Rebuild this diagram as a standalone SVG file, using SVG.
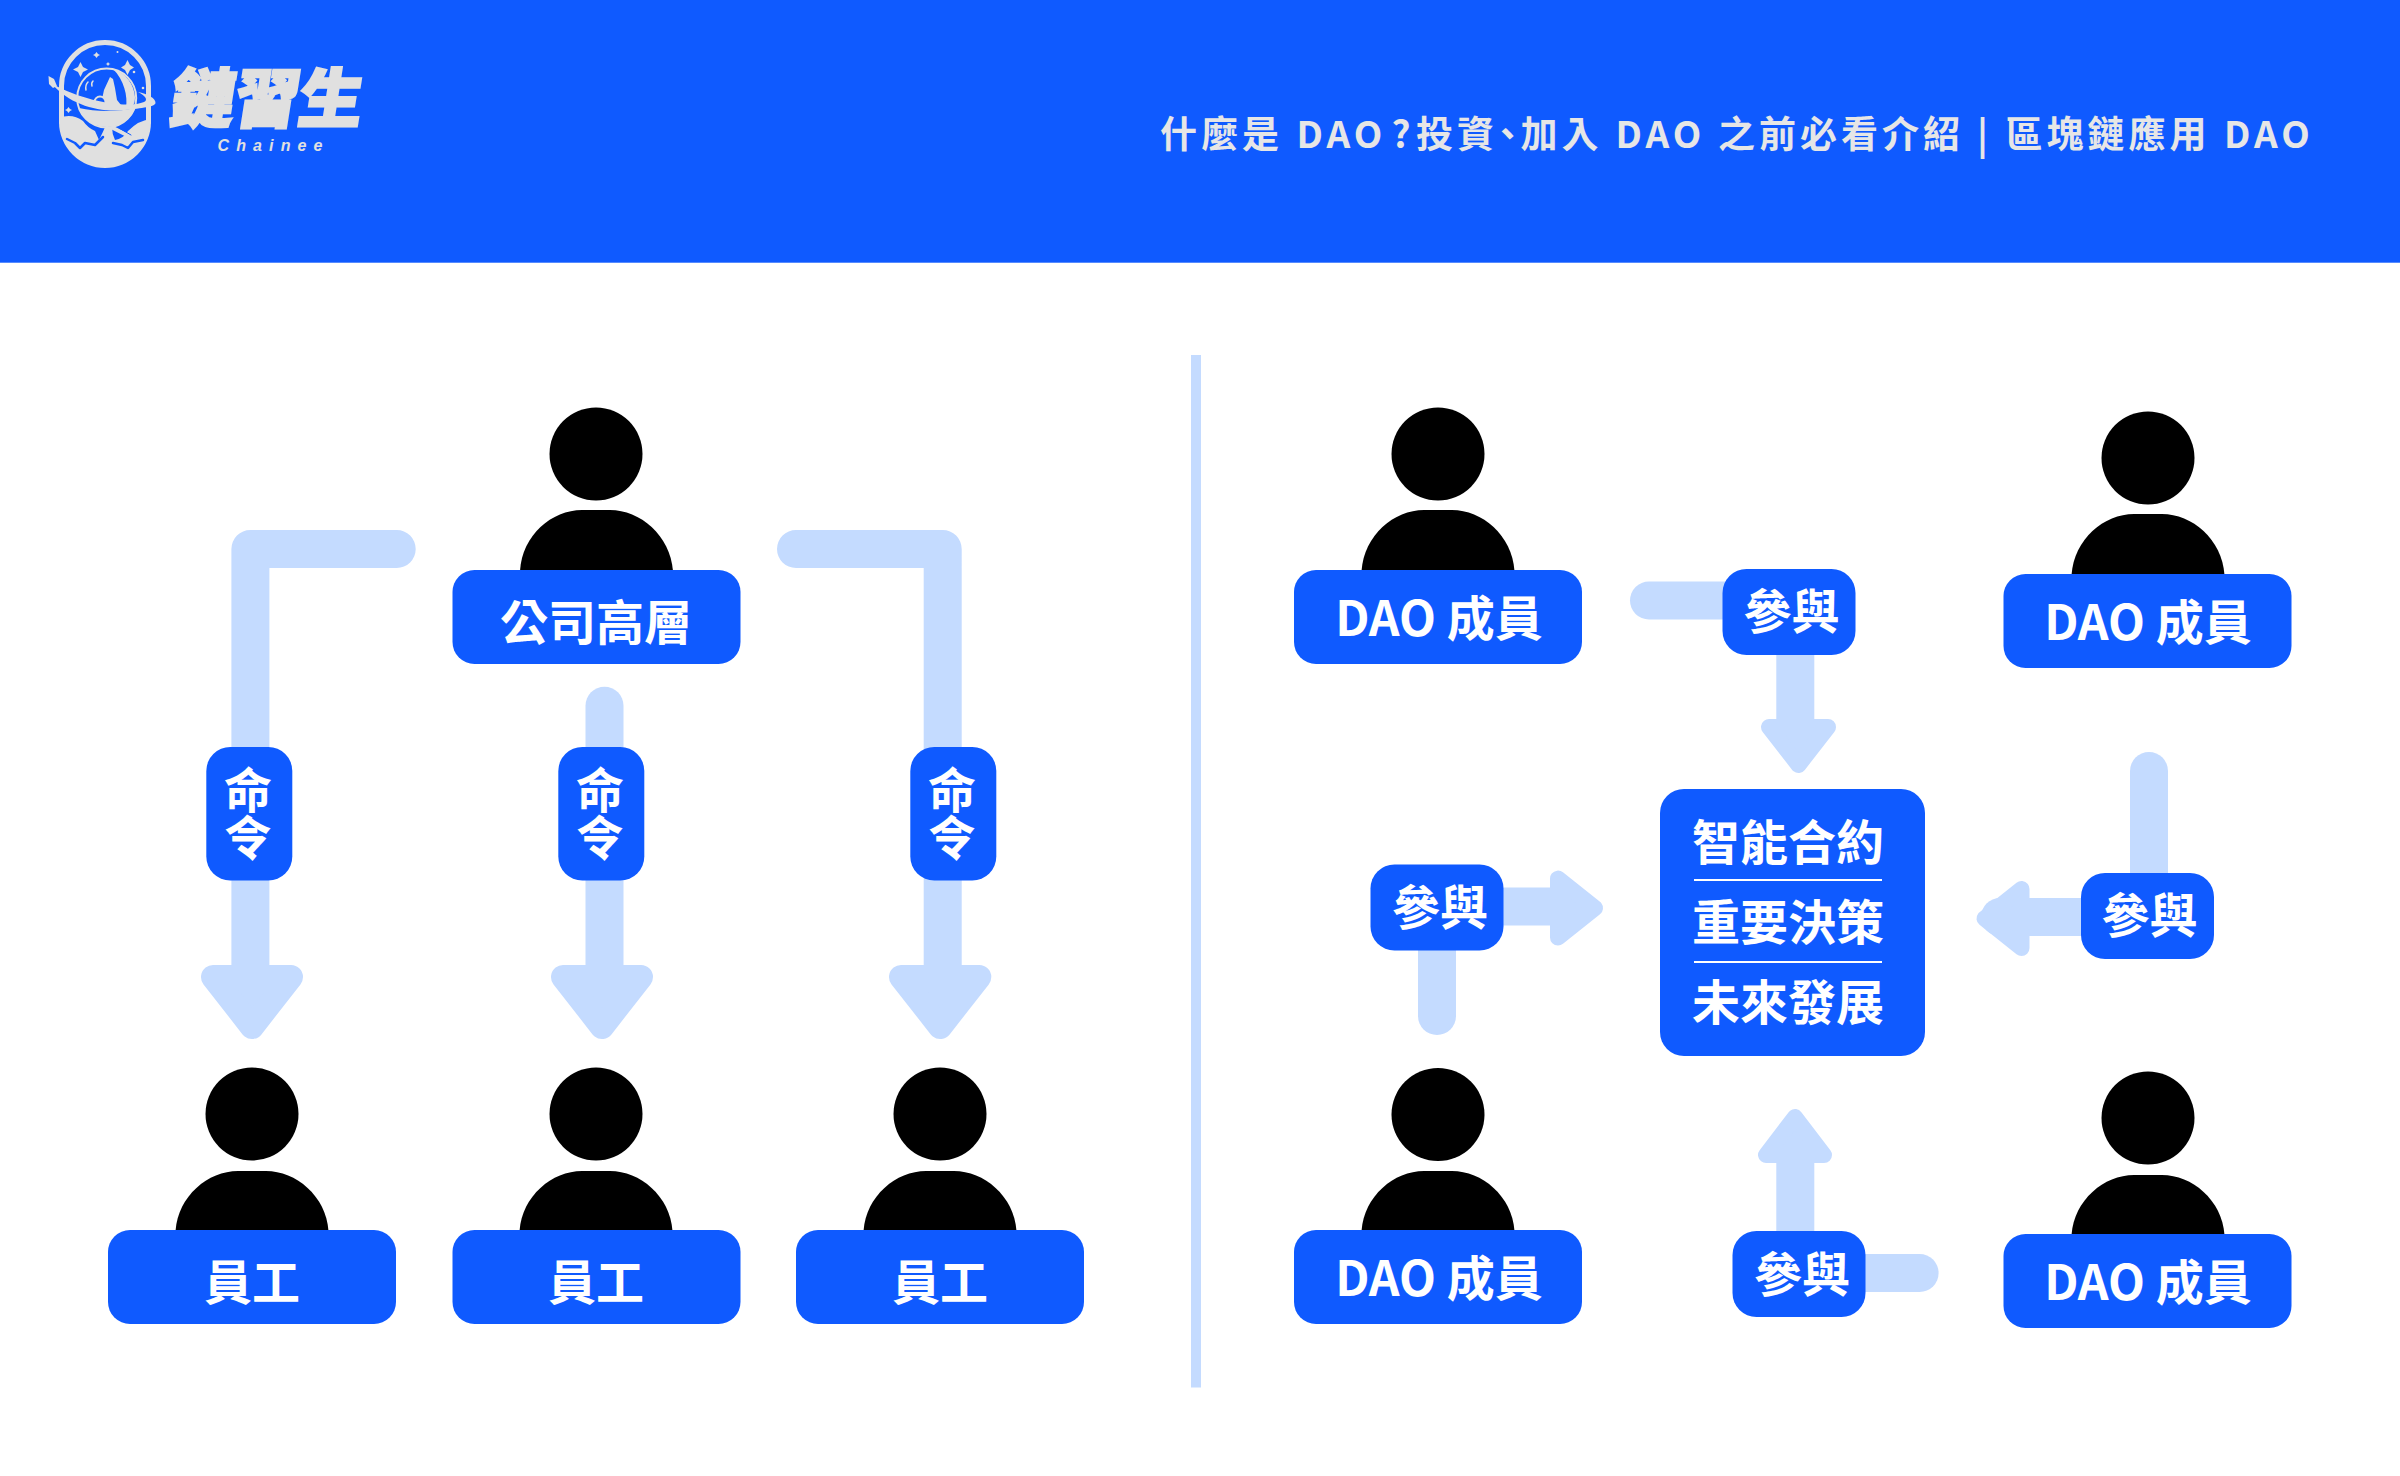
<svg xmlns="http://www.w3.org/2000/svg" width="2400" height="1476" viewBox="0 0 2400 1476">
<style>
text{font-family:"Noto Sans CJK TC","Noto Sans CJK SC","Noto Sans",sans-serif;font-weight:700;fill:#fff;text-anchor:middle}
.box{fill:#0f5aff}
.pill{fill:#0f5aff}
.t{font-size:48px}
.sh{fill:none;stroke:#c4dbff;stroke-width:38;stroke-linecap:round;stroke-linejoin:round}
.hb{fill:#c4dbff;stroke:#c4dbff;stroke-width:24;stroke-linejoin:round}
.hs{fill:#c4dbff;stroke:#c4dbff;stroke-width:16;stroke-linejoin:round}
.body{fill:#000}
.g{fill:#e0e0e0}
.gs{fill:none;stroke:#e0e0e0;stroke-linecap:round}
.bl{fill:none;stroke:#0f5aff;stroke-linecap:round;stroke-linejoin:round}
</style>
<rect width="2400" height="262.700" fill="#0f5aff"/>
<g id="logo">
<path class="gs" stroke-width="5" d="M61.500 122V86a43.500 43.500 0 0 1 87 0V122"/>
<path class="g" d="M59 118Q72 113 83 121Q88 128 95 131L99 140Q103 132 105 127L112 127Q112 134 115 140Q123 139 128 131Q139 120 151 119V122A46 46 0 0 1 59 122Z"/>
<path class="bl" stroke-width="2.500" d="M67 139L75 143L80 148L85 143L95 145L103 137M113 143L122 145L128 148L133 142L143 140"/>
<circle cx="106.700" cy="98" r="29.500" fill="none" stroke="#e0e0e0" stroke-width="2"/>
<path class="g" d="M79 108C84 122 96 127 107 127C120 127 131 120 135 108C118 112 96 112 79 108Z"/>
<path class="g" d="M113 69C126 73 134 84 135 97C135 103 133 107 130 109L126 108C128 96 124 80 113 69Z"/>
<path class="g" d="M110 77L113 79L115 88L117 100L121 105L119 109L105 108L101 104L104 90Z"/>
<circle cx="100" cy="102" r="5.500" fill="#0f5aff" stroke="#e0e0e0" stroke-width="2"/>
<path class="bl" style="stroke:#e0e0e0" stroke-width="1.500" d="M86 90Q85 85 88 82M92 86Q91 83 93 81M84 102L88 103M90 101L93 104"/>
<path class="g" d="M52 84C70 105 100 113 125 110C142 108 155 107 155.500 103C156 98 147 94 138 92C146 96 148 100 144 102C130 108 90 104 52 84Z"/>
<path class="g" d="M48.500 76L54 79L57 86L53 88L49 84Z"/>
<path class="gs" stroke-width="4" d="M113 128L131 137"/>
<path class="bl" stroke-width="1" d="M119 128L131 135"/>
<g class="g">
<path d="M80.500 62L83 67L88 69.500L83 72L80.500 77L78 72L73 69.500L78 67Z"/>
<path d="M127.500 60L130 65L134 67.500L130 70L127.500 75L125 70L121 67.500L125 65Z"/>
<path d="M96.500 52L98 54L100 55L98 56L96.500 58L95 56L93 55L95 54Z"/>
<path d="M108 62L109 63.500L110.500 64L109 64.500L108 66L107 64.500L105.500 64L107 63.500Z"/>
<path d="M68.500 107L70 109L72 110L70 111L68.500 113L67 111L65 110L67 109Z"/>
<circle cx="134" cy="72" r="1.300"/><circle cx="143" cy="88" r="1.300"/><circle cx="117.500" cy="52" r="1"/>
</g>
<text x="0" y="0" style="font-size:64px;font-weight:900;fill:#e0e0e0;stroke:#e0e0e0;stroke-width:2.500" transform="translate(264 122) skewX(-9)">鏈習生</text>
<text x="270" y="151" textLength="105" style="font-family:'Liberation Sans',sans-serif;font-size:16px;font-style:italic;fill:#e0e0e0">Chainee</text>
</g>
<text id="title" y="148" style="font-size:37px;font-weight:700;fill:#e6e6e6;text-anchor:start;letter-spacing:4px"><tspan x="1160">什麼是</tspan><tspan x="1296.500">DAO</tspan><tspan x="1391.500">?</tspan><tspan x="1416">投資</tspan><tspan x="1489">、</tspan><tspan x="1520.500">加入</tspan><tspan x="1615.500">DAO</tspan><tspan x="1718">之前必看介紹</tspan><tspan x="1977">|</tspan><tspan x="2005.500">區塊鏈應用</tspan><tspan x="2224">DAO</tspan></text>

<rect id="divider" x="1191" y="355" width="10" height="1032.500" fill="#c4dbff"/>

<g id="connectors">
<path class="sh" d="M396.700 549H250.400V965"/>
<path class="hb" d="M213 977H291L252 1027Z"/>
<path class="sh" d="M604.500 705.700V965"/>
<path class="hb" d="M563 977H641L602 1027Z"/>
<path class="sh" d="M796 549H942.700V965"/>
<path class="hb" d="M901 977H979.300L940.200 1027Z"/>
<path class="sh" d="M1649 600.500H1760"/>
<path class="sh" d="M1795.300 640V725" stroke-linecap="butt"/>
<path class="hs" d="M1769 727H1828L1798.500 765Z"/>
<path class="sh" d="M2149 771V900"/>
<path class="sh" d="M2000 917H2100"/>
<path class="hs" d="M2021.500 889V948L1984.500 918.500Z"/>
<path class="sh" d="M1437 1016V940"/>
<path class="sh" d="M1490 906.500H1555"/>
<path class="hs" d="M1558 878.600V937.600L1595 908Z"/>
<path class="sh" d="M1919.600 1273H1850"/>
<path class="sh" d="M1795.300 1250V1160"/>
<path class="hs" d="M1766 1155H1824L1795 1117Z"/>
</g>

<g id="person-exec">
<circle cx="596" cy="454" r="46.500"/>
<path class="body" d="M520 571C522 535 552 510 582 510H610C640 510 670 535 673 571Z"/>
<rect class="box" x="452.500" y="570" width="288" height="94" rx="22"/>
<text class="t" x="596" y="640">公司高層</text>
</g>
<g id="staff-1">
<circle cx="252" cy="1114" r="46.500"/>
<path class="body" d="M175.500 1231C178 1196 208 1171 238 1171H266C296 1171 326 1196 328.500 1231Z"/>
<rect class="box" x="108" y="1230" width="288" height="94" rx="22"/>
<text class="t" x="252" y="1300">員工</text>
</g>
<g id="staff-2">
<circle cx="596" cy="1114" r="46.500"/>
<path class="body" d="M519.500 1231C522 1196 552 1171 582 1171H610C640 1171 670 1196 672.500 1231Z"/>
<rect class="box" x="452.500" y="1230" width="288" height="94" rx="22"/>
<text class="t" x="596" y="1300">員工</text>
</g>
<g id="staff-3">
<circle cx="940" cy="1114" r="46.500"/>
<path class="body" d="M863.500 1231C866 1196 896 1171 926 1171H954C984 1171 1014 1196 1016.500 1231Z"/>
<rect class="box" x="796" y="1230" width="288" height="94" rx="22"/>
<text class="t" x="940" y="1300">員工</text>
</g>

<g id="cmd-1"><rect class="pill" x="206.300" y="747" width="86" height="133.500" rx="24"/><text class="t" x="248" y="808">命</text><text class="t" x="248" y="856">令</text></g>
<g id="cmd-2"><rect class="pill" x="558.300" y="747" width="86" height="133.500" rx="24"/><text class="t" x="600" y="808">命</text><text class="t" x="600" y="856">令</text></g>
<g id="cmd-3"><rect class="pill" x="910.300" y="747" width="86" height="133.500" rx="24"/><text class="t" x="952" y="808">命</text><text class="t" x="952" y="856">令</text></g>

<g id="dao-1">
<circle cx="1438" cy="454" r="46.500"/>
<path class="body" d="M1361.500 571C1364 535 1394 510 1424 510H1452C1482 510 1512 535 1514.500 571Z"/>
<rect class="box" x="1294" y="570" width="288" height="94" rx="22"/>
<text class="t" x="1439" y="636">DAO 成員</text>
</g>
<g id="dao-2">
<circle cx="2148" cy="458" r="46.500"/>
<path class="body" d="M2071.500 575C2074 539 2104 514 2134 514H2162C2192 514 2222 539 2224.500 575Z"/>
<rect class="box" x="2003.500" y="574" width="288" height="94" rx="22"/>
<text class="t" x="2148" y="640">DAO 成員</text>
</g>
<g id="dao-3">
<circle cx="1438" cy="1114.500" r="46.500"/>
<path class="body" d="M1361.500 1231C1364 1196 1394 1171 1424 1171H1452C1482 1171 1512 1196 1514.500 1231Z"/>
<rect class="box" x="1294" y="1230" width="288" height="94" rx="22"/>
<text class="t" x="1439" y="1296">DAO 成員</text>
</g>
<g id="dao-4">
<circle cx="2148" cy="1118" r="46.500"/>
<path class="body" d="M2071.500 1235C2074 1200 2104 1175 2134 1175H2162C2192 1175 2222 1200 2224.500 1235Z"/>
<rect class="box" x="2003.500" y="1234" width="288" height="94" rx="22"/>
<text class="t" x="2148" y="1300">DAO 成員</text>
</g>

<g id="join-1"><rect class="pill" x="1722.500" y="569" width="133" height="86" rx="24"/><text class="t" x="1791.500" y="629">參與</text></g>
<g id="join-2"><rect class="pill" x="2081" y="873" width="133" height="86" rx="24"/><text class="t" x="2149.500" y="933">參與</text></g>
<g id="join-3"><rect class="pill" x="1370.500" y="864.500" width="133" height="86" rx="24"/><text class="t" x="1440" y="925">參與</text></g>
<g id="join-4"><rect class="pill" x="1732.500" y="1231" width="133" height="86" rx="24"/><text class="t" x="1802" y="1291.500">參與</text></g>

<g id="contract">
<rect class="box" x="1660" y="789" width="265" height="267" rx="24"/>
<text class="t" x="1788" y="860">智能合約</text>
<rect x="1694" y="879" width="188" height="2" fill="#fff"/>
<text class="t" x="1788" y="939.500">重要決策</text>
<rect x="1694" y="961" width="188" height="2" fill="#fff"/>
<text class="t" x="1788" y="1020">未來發展</text>
</g>
</svg>
